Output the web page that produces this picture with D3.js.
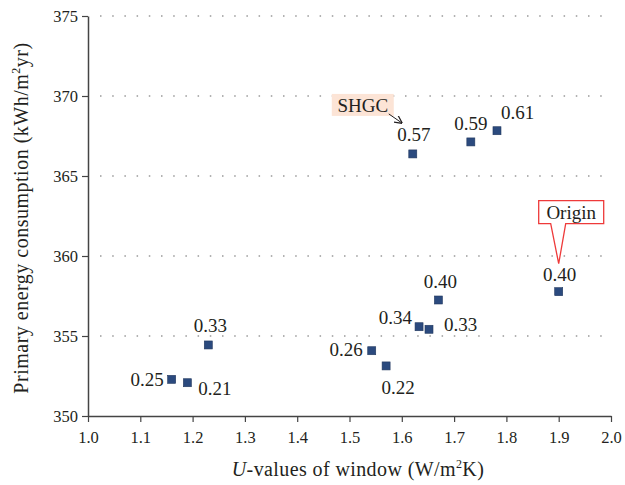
<!DOCTYPE html>
<html>
<head>
<meta charset="utf-8">
<script src="https://cdn.jsdelivr.net/npm/d3@7"></script>
<style>
  body { margin: 0; background: #fff; }
  text { font-family: "Liberation Serif", "Times New Roman", serif; fill: #231f20; }
</style>
</head>
<body>
<div id="chart"></div>
<script>
const FRAME_WIDTH = 625;
const FRAME_HEIGHT = 485;
const MARGINS = {left: 88, right: 14, top: 16, bottom: 69};

const VIS_WIDTH = FRAME_WIDTH - MARGINS.left - MARGINS.right;
const VIS_HEIGHT = FRAME_HEIGHT - MARGINS.top - MARGINS.bottom;

// data
const uValues = [1.16, 1.19, 1.23, 1.5425, 1.57, 1.633, 1.652, 1.67, 1.90, 1.621, 1.732, 1.782];
const energy  = [352.29, 352.08, 354.44, 354.08, 353.13, 355.58, 355.42, 357.25, 357.77, 366.38, 367.13, 367.83];
const shgc    = ["0.25", "0.21", "0.33", "0.26", "0.22", "0.34", "0.33", "0.40", "0.40", "0.57", "0.59", "0.61"];

const xTicks = [1.0, 1.1, 1.2, 1.3, 1.4, 1.5, 1.6, 1.7, 1.8, 1.9, 2.0];
const yTicks = [350, 355, 360, 365, 370, 375];

// where each label sits around its point (anchor, dx, dy)
const labelPlace = [
  ["end", -8, 7], ["start", 11, 12], ["middle", 2, -13], ["end", -9, 5],
  ["middle", 12, 28], ["end", -7, -3], ["start", 15, 2], ["middle", 2, -12],
  ["middle", 1, -11], ["middle", 1, -13], ["middle", 0, -12], ["start", 4, -12]
];

const data = uValues.map((u, i) => ({u: u, e: energy[i], label: shgc[i]}));

const FRAME = d3.select("#chart")
  .append("svg")
    .attr("width", FRAME_WIDTH)
    .attr("height", FRAME_HEIGHT);

const X_SCALE = d3.scaleLinear().domain([1.0, 2.0]).range([0, VIS_WIDTH]);
const Y_SCALE = d3.scaleLinear().domain([350, 375]).range([VIS_HEIGHT, 0]);

const VIS = FRAME.append("g")
  .attr("transform", "translate(" + MARGINS.left + "," + MARGINS.top + ")");

// dotted gridlines
VIS.selectAll(".grid")
  .data(yTicks.filter(d => d > 350))
  .enter()
  .append("line")
    .attr("x1", 12)
    .attr("x2", VIS_WIDTH)
    .attr("y1", d => Y_SCALE(d))
    .attr("y2", d => Y_SCALE(d))
    .attr("stroke", "#666")
    .attr("stroke-width", 1.2)
    .attr("stroke-dasharray", "1.5,10.7");

// axes
const xAxis = VIS.append("g")
  .attr("transform", "translate(0," + VIS_HEIGHT + ")")
  .call(d3.axisBottom(X_SCALE).tickValues(xTicks).tickFormat(d3.format(".1f"))
          .tickSize(6).tickSizeOuter(0).tickPadding(9));

const yAxis = VIS.append("g")
  .call(d3.axisLeft(Y_SCALE).tickValues(yTicks).tickSize(6).tickSizeOuter(0).tickPadding(4));

[xAxis, yAxis].forEach(a => {
  a.select(".domain").attr("stroke", "#444").attr("stroke-width", 1.5);
  a.selectAll(".tick line").attr("stroke", "#444").attr("stroke-width", 1.2);
  a.selectAll(".tick text").attr("font-size", "16.5px")
    .attr("font-family", "Liberation Serif").attr("fill", "#231f20");
});

// points
VIS.selectAll(".point")
  .data(data)
  .enter()
  .append("rect")
    .attr("x", d => X_SCALE(d.u) - 4)
    .attr("y", d => Y_SCALE(d.e) - 4)
    .attr("width", 8)
    .attr("height", 8)
    .attr("fill", "#2b4a7e")
    .attr("stroke", "#22385e")
    .attr("stroke-width", 0.6);

// labels
VIS.selectAll(".lbl")
  .data(data)
  .enter()
  .append("text")
    .attr("x", (d, i) => X_SCALE(d.u) + labelPlace[i][1])
    .attr("y", (d, i) => Y_SCALE(d.e) + labelPlace[i][2])
    .attr("text-anchor", (d, i) => labelPlace[i][0])
    .attr("font-size", "19px")
    .text(d => d.label);

// SHGC callout near the 0.57 point
const p57 = data[9];
const sx = X_SCALE(p57.u), sy = Y_SCALE(p57.e);
VIS.append("rect")
  .attr("x", sx - 81).attr("y", sy - 60)
  .attr("width", 62).attr("height", 22)
  .attr("fill", "#fce4d6");
VIS.append("text")
  .attr("x", sx - 50).attr("y", sy - 42)
  .attr("text-anchor", "middle")
  .attr("font-size", "19px")
  .text("SHGC");

FRAME.append("defs").append("marker")
  .attr("id", "arrow")
  .attr("viewBox", "0 0 10 10")
  .attr("refX", 9).attr("refY", 5)
  .attr("markerWidth", 8).attr("markerHeight", 8)
  .attr("orient", "auto-start-reverse")
  .append("path")
    .attr("d", "M0,0 L10,5 L0,10")
    .attr("fill", "none")
    .attr("stroke", "#231f20")
    .attr("stroke-width", 1.5);

VIS.append("line")
  .attr("x1", sx - 24).attr("y1", sy - 40)
  .attr("x2", sx - 11).attr("y2", sy - 31)
  .attr("stroke", "#231f20")
  .attr("stroke-width", 1)
  .attr("marker-end", "url(#arrow)");

// Origin callout above the origin point
const po = data[8];
const ox = X_SCALE(po.u), oy = Y_SCALE(po.e);
const bx = ox - 20, by = oy - 91, bw = 65, bh = 23;
VIS.append("path")
  .attr("d", "M" + bx + "," + by +
             " H" + (bx + bw) + " V" + (by + bh) +
             " H" + (ox + 7) + " L" + ox + "," + (oy - 28) +
             " L" + (ox - 8) + "," + (by + bh) +
             " H" + bx + " Z")
  .attr("fill", "#fff")
  .attr("stroke", "#ee3a3a")
  .attr("stroke-width", 1.3);
VIS.append("text")
  .attr("x", bx + bw / 2).attr("y", by + 18)
  .attr("text-anchor", "middle")
  .attr("font-size", "19px")
  .text("Origin");

// axis titles
const xTitle = FRAME.append("text")
  .attr("x", 358)
  .attr("y", 476)
  .attr("text-anchor", "middle")
  .attr("font-size", "20px")
  .attr("letter-spacing", "0.4px");
xTitle.append("tspan").attr("font-style", "italic").text("U");
xTitle.append("tspan").text("-values of window (W/m");
xTitle.append("tspan").attr("font-size", "12px").attr("dy", -8).text("2");
xTitle.append("tspan").attr("dy", 8).text("K)");

const yTitle = FRAME.append("text")
  .attr("transform", "translate(28,218) rotate(-90)")
  .attr("text-anchor", "middle")
  .attr("font-size", "20px")
  .attr("letter-spacing", "0.5px");
yTitle.append("tspan").text("Primary energy consumption (kWh/m");
yTitle.append("tspan").attr("font-size", "12px").attr("dy", -8).text("2");
yTitle.append("tspan").attr("dy", 8).text("yr)");
</script>
</body>
</html>
